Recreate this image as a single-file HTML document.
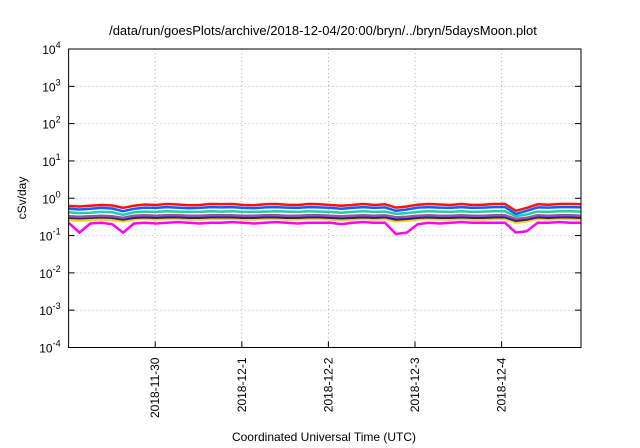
<!DOCTYPE html>
<html><head><meta charset="utf-8"><style>
body{margin:0;background:#fff}
svg{display:block;font-family:"Liberation Sans",sans-serif}
</style></head><body>
<svg id="chart" width="640" height="448">
<text x="323" y="35" font-size="13" text-anchor="middle">/data/run/goesPlots/archive/2018-12-04/20:00/bryn/../bryn/5daysMoon.plot</text>
<g id="grid"></g><g id="series"></g><g id="axes"></g>
<text x="26" y="198" font-size="12" text-anchor="middle" transform="rotate(-90 26 198)">cSv/day</text>
<text x="324" y="441" font-size="12" text-anchor="middle">Coordinated Universal Time (UTC)</text>
</svg>
<script>
const xTickLabels=["2018-11-30","2018-12-1","2018-12-2","2018-12-3","2018-12-4"];
const xTickDays=[1,2,3,4,5];
const yExps=[-4,-3,-2,-1,0,1,2,3,4];
const seriesColors=["#ff00ff","#ffd700","#2020a0","#a050a0","#20d0a0","#1060ff","#ff1010"];
const seriesNames=["magenta","yellow","navy","purple","teal","blue","red"];
const sMagenta=[0.22,0.12,0.21,0.22,0.2,0.12,0.21,0.22,0.21,0.22,0.23,0.22,0.21,0.22,0.22,0.23,0.22,0.21,0.22,0.23,0.22,0.21,0.22,0.22,0.22,0.2,0.22,0.23,0.22,0.22,0.11,0.12,0.2,0.22,0.21,0.22,0.23,0.22,0.22,0.22,0.22,0.12,0.13,0.22,0.22,0.23,0.22,0.22];
const sYellow=[0.26,0.25,0.26,0.27,0.26,0.24,0.27,0.28,0.27,0.28,0.28,0.27,0.27,0.28,0.28,0.28,0.27,0.27,0.28,0.28,0.27,0.27,0.28,0.28,0.27,0.26,0.27,0.28,0.27,0.28,0.24,0.25,0.27,0.28,0.27,0.27,0.28,0.27,0.27,0.28,0.28,0.22,0.24,0.28,0.27,0.28,0.28,0.27];
const sNavy=[0.3,0.29,0.3,0.31,0.3,0.27,0.3,0.31,0.3,0.31,0.31,0.3,0.3,0.31,0.31,0.31,0.3,0.3,0.31,0.31,0.3,0.3,0.31,0.31,0.3,0.29,0.3,0.31,0.3,0.31,0.27,0.28,0.3,0.31,0.3,0.3,0.31,0.3,0.3,0.31,0.31,0.25,0.27,0.31,0.3,0.31,0.31,0.3];
const sPurple=[0.33,0.32,0.33,0.34,0.33,0.3,0.34,0.35,0.34,0.35,0.35,0.34,0.34,0.35,0.35,0.35,0.34,0.34,0.35,0.35,0.34,0.34,0.35,0.35,0.34,0.33,0.34,0.35,0.34,0.35,0.31,0.32,0.34,0.35,0.34,0.34,0.35,0.34,0.34,0.35,0.35,0.28,0.3,0.35,0.34,0.35,0.35,0.34];
const sTeal=[0.42,0.4,0.41,0.43,0.42,0.36,0.42,0.44,0.43,0.45,0.44,0.43,0.43,0.45,0.44,0.45,0.43,0.43,0.44,0.45,0.44,0.43,0.45,0.44,0.43,0.41,0.43,0.45,0.43,0.44,0.38,0.4,0.43,0.45,0.44,0.43,0.45,0.43,0.44,0.45,0.45,0.33,0.37,0.44,0.43,0.45,0.45,0.44];
const sBlue=[0.52,0.5,0.52,0.55,0.53,0.45,0.52,0.56,0.55,0.58,0.56,0.54,0.55,0.58,0.57,0.58,0.55,0.54,0.57,0.58,0.56,0.55,0.58,0.57,0.55,0.52,0.55,0.58,0.55,0.57,0.46,0.5,0.56,0.58,0.56,0.55,0.58,0.55,0.56,0.58,0.58,0.38,0.46,0.57,0.56,0.58,0.58,0.57];
const sRed=[0.62,0.6,0.63,0.66,0.64,0.55,0.63,0.68,0.66,0.7,0.68,0.65,0.66,0.7,0.69,0.7,0.66,0.65,0.69,0.7,0.67,0.66,0.7,0.69,0.66,0.63,0.66,0.7,0.66,0.69,0.56,0.6,0.67,0.7,0.68,0.66,0.7,0.66,0.67,0.7,0.7,0.46,0.55,0.69,0.67,0.7,0.7,0.69];
const allSeries=[sMagenta,sYellow,sNavy,sPurple,sTeal,sBlue,sRed];
const L=68.6,R=581,T=49,B=347.5,dayW=86.6,days=5.92;
const xs=d=>L+d*dayW, ys=v=>T+(4-Math.log10(v))*(B-T)/8;
const NS="http://www.w3.org/2000/svg";
function mk(t,a,p){const e=document.createElementNS(NS,t);for(const k in a)e.setAttribute(k,a[k]);p.appendChild(e);return e;}
const grid=document.getElementById('grid'),axes=document.getElementById('axes'),ser=document.getElementById('series');
yExps.forEach(e=>{const y=ys(Math.pow(10,e));
 if(e>-4&&e<4){const g=mk('line',{x1:L,x2:R,y1:y,y2:y,stroke:'#aaa','stroke-dasharray':'1,3','stroke-width':1},grid);
 
 }
 const t1=mk('line',{x1:L,x2:L+6,y1:y,y2:y,stroke:'#000'},axes);
 
 
 const t2=mk('line',{x1:R-6,x2:R,y1:y,y2:y,stroke:'#000'},axes);
 
 
 const tx=mk('text',{x:L-8,y:y+5,'font-size':12,'text-anchor':'end'},axes);
 
 
 tx.innerHTML='10<tspan dy="-6" font-size="9">'+e+'</tspan>';});
xTickDays.forEach((d,i)=>{const x=xs(d);
 const g=mk('line',{x1:x,x2:x,y1:T,y2:B,stroke:'#aaa','stroke-dasharray':'1,3'},grid);
 
 
 const t=mk('line',{x1:x,x2:x,y1:B-6,y2:B,stroke:'#000'},axes);
 
 
 const tx=mk('text',{x:x+4,y:B+10,'font-size':12,'text-anchor':'end',transform:`rotate(-90 ${x+4} ${B+10})`},axes);
 
 
 tx.textContent=xTickLabels[i];});
const fr=mk('rect',{x:L,y:T,width:R-L,height:B-T,fill:'none',stroke:'#000'},axes);


allSeries.forEach((s,k)=>{const n=s.length;const pts=s.map((v,i)=>xs(i*days/(n-1)).toFixed(1)+','+ys(v).toFixed(1)).join(' ');
 const p=mk('polyline',{points:pts,fill:'none',stroke:seriesColors[k],'stroke-width':2.5},ser);
 
 });
</script>
</body></html>
